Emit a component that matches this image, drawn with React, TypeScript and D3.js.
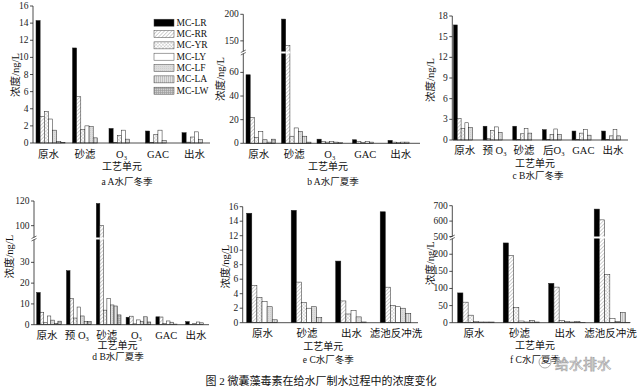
import React from "react";
import * as d3 from "d3";

const seriesNames = ["MC-LR", "MC-RR", "MC-YR", "MC-LY", "MC-LF", "MC-LA", "MC-LW"];

const catsA = ["原水", "砂滤", "O3", "GAC", "出水"];
const valsA = [
  [14.3, 3.1, 3.7, 2.8, 1.5, 0.2, 0.05],
  [11.1, 5.4, 1.6, 2.0, 1.9, 0.6, 0],
  [1.7, 0.05, 0.9, 1.5, 0.45, 0, 0],
  [1.4, 0.05, 1.0, 1.5, 0.3, 0, 0],
  [1.2, 0.1, 0.7, 1.3, 0.4, 0, 0],
];
const ticksA = [0, 2, 4, 6, 8, 10, 12, 14, 16];

const catsB = ["原水", "砂滤", "O3", "GAC", "出水"];
const valsB = [
  [58, 22, 5, 10, 3, 1, 3.5],
  [191, 141, 6, 13, 10, 6, 1],
  [3.5, 1.5, 1, 1.5, 1, 0.5, 0],
  [3, 1.5, 0.5, 1.5, 1, 0, 0],
  [2.5, 1, 0.5, 1, 1, 0, 0],
];
const ticksBLow = [0, 20, 40, 60];
const ticksBHigh = [150, 200];

const catsC = ["原水", "预 O3", "砂滤", "后O3", "GAC", "出水"];
const valsC = [
  [16.7, 3.1, 1.7, 2.5, 1.8, 0, 0],
  [2.0, 0.2, 1.4, 1.9, 1.1, 0, 0],
  [2.0, 0.1, 0.9, 1.7, 1.0, 0, 0],
  [1.5, 0.1, 0.8, 1.6, 0.8, 0, 0],
  [1.3, 0.1, 1.0, 1.5, 0.7, 0, 0],
  [1.3, 0.1, 0.6, 1.5, 0.6, 0, 0],
];
const ticksC = [0, 3, 6, 9, 12, 15, 18];

const catsD = ["原水", "预 O3", "砂滤", "O3", "GAC", "出水"];
const valsD = [
  [15.5, 6, 1, 4.2, 2.2, 0.7, 1.7],
  [26, 12.5, 3.2, 8.5, 4.2, 1.5, 1.5],
  [118, 100, 7, 12.5, 9.5, 9, 4.7],
  [3.6, 4.1, 0.4, 2.3, 1.5, 3.8, 1.3],
  [3.8, 3.7, 0.5, 1.8, 1.2, 0.3, 0],
  [1.5, 0.2, 0.5, 1.3, 0.9, 0, 0],
];
const ticksDLow = [0, 10, 20, 30];
const ticksDHigh = [100, 120];

const catsE = ["原水", "砂滤", "出水", "滤池反冲洗"];
const valsE = [
  [15.1, 5.1, 3.5, 2.9, 2.2, 0.4, 0],
  [15.5, 5.6, 2.8, 2.0, 2.2, 0.7, 0],
  [8.5, 3.0, 1.2, 1.7, 0.8, 0.1, 0],
  [15.3, 4.9, 2.4, 2.2, 2.0, 1.3, 0],
];
const ticksE = [0, 2, 4, 6, 8, 10, 12, 14, 16];

const catsF = ["原水", "砂滤", "出水", "滤池反冲洗"];
const valsF = [
  [87, 60, 22, 3, 2, 2, 2],
  [233, 196, 45, 5, 2, 7, 2],
  [115, 104, 7, 3, 2, 4, 1],
  [678, 608, 141, 12, 3, 30, 1],
];
const ticksFLow = [0, 50, 100, 150, 200];
const ticksFHigh = [500, 600, 700];

const yLabel = "浓度/ng/L";
const xTitle = "工艺单元";
const caption = "图 2   微囊藻毒素在给水厂制水过程中的浓度变化";

const SERIF = "'Liberation Serif','Noto Sans CJK SC',serif";
const fills = ["#000", "url(#pRR)", "url(#pYR)", "#fff", "url(#pLF)", "url(#pLA)", "url(#pLW)"];

type Cfg = {
  id: string;
  cats: string[];
  vals: number[][];
  axisX: number;
  xEnd: number;
  low: { domain: [number, number]; range: [number, number]; ticks: number[] };
  high?: { domain: [number, number]; range: [number, number]; ticks: number[] };
  start: number;
  step: number;
  groupW: number;
  catY: number;
  xt: [number, number];
  title: [number, number, string];
  yl: [number, number];
};

const panels: Cfg[] = [
  {
    id: "a", cats: catsA, vals: valsA, axisX: 33, xEnd: 210,
    low: { domain: [0, 16], range: [143, 6], ticks: ticksA },
    start: 36, step: 36.5, groupW: 29, catY: 154,
    xt: [122, 166.5], title: [127, 182, "a A水厂冬季"], yl: [15, 75],
  },
  {
    id: "b", cats: catsB, vals: valsB, axisX: 243.3, xEnd: 420,
    low: { domain: [0, 76], range: [143.3, 53.5], ticks: ticksBLow },
    high: { domain: [130, 200], range: [51.5, 14.3], ticks: ticksBHigh },
    start: 246, step: 35.5, groupW: 29.5, catY: 154,
    xt: [328, 166], title: [333, 181.7, "b A水厂夏季"], yl: [220.7, 79],
  },
  {
    id: "c", cats: catsC, vals: valsC, axisX: 452.3, xEnd: 628,
    low: { domain: [0, 18], range: [140, 16], ticks: ticksC },
    start: 453.5, step: 29.64, groupW: 26.6, catY: 150,
    xt: [535, 163.5], title: [538, 175.5, "c B水厂冬季"], yl: [430, 80],
  },
  {
    id: "d", cats: catsD, vals: valsD, axisX: 34, xEnd: 209,
    low: { domain: [0, 41], range: [324.7, 239.5], ticks: ticksDLow },
    high: { domain: [90.4, 120], range: [237.5, 201], ticks: ticksDHigh },
    start: 36.7, step: 29.8, groupW: 24.7, catY: 335,
    xt: [117.5, 345], title: [118, 356.5, "d B水厂夏季"], yl: [9, 256.7],
  },
  {
    id: "e", cats: catsE, vals: valsE, axisX: 242.7, xEnd: 418,
    low: { domain: [0, 16], range: [322.7, 206.7], ticks: ticksE },
    start: 246.7, step: 44.5, groupW: 35.7, catY: 333.3,
    xt: [323.3, 346], title: [328.3, 360.3, "e C水厂冬季"], yl: [225, 266.7],
  },
  {
    id: "f", cats: catsF, vals: valsF, axisX: 452.3, xEnd: 630,
    low: { domain: [0, 246], range: [322.7, 238.5], ticks: ticksFLow },
    high: { domain: [500, 700], range: [236.5, 205.7], ticks: ticksFHigh },
    start: 457.7, step: 45.5, groupW: 36.5, catY: 333.3,
    xt: [535, 345.5], title: [535, 360, "f C水厂夏季"], yl: [430, 263.3],
  },
];

function CatLabel({ x, y, label }: { x: number; y: number; label: string }) {
  const idx = label.indexOf("O3");
  if (idx >= 0) {
    const pre = label.slice(0, idx);
    return (
      <text x={x} y={y} textAnchor="middle" dominantBaseline="central" fontSize={10.5} fontFamily={SERIF} fill="#111">
        {pre}O<tspan fontSize={6.5} dy={2.5}>3</tspan>
      </text>
    );
  }
  return (
    <text x={x} y={y} textAnchor="middle" dominantBaseline="central" fontSize={10.5} fontFamily={SERIF} fill="#111">
      {label}
    </text>
  );
}

function Panel({ cfg }: { cfg: Cfg }) {
  const { cats, vals, axisX, xEnd, low, high, start, step, groupW } = cfg;
  const n = cats.length;
  const pi = 1 - groupW / step;
  const r0 = start - (step - groupW) / 2;
  const x = d3.scaleBand<string>().domain(cats).range([r0, r0 + n * step]).paddingInner(pi).paddingOuter(pi / 2);
  const xs = d3.scaleBand<string>().domain(seriesNames).range([0, x.bandwidth()]);
  const yL = d3.scaleLinear().domain(low.domain).range(low.range);
  const yH = high ? d3.scaleLinear().domain(high.domain).range(high.range) : null;
  const y = (v: number) => (!yH || v <= low.domain[1] ? yL(Math.min(v, low.domain[1])) : yH(Math.max(v, high!.domain[0])));
  const y0 = yL(0);
  const stroke = "#222";

  return (
    <g>
      {cats.map((c, i) =>
        seriesNames.map((s, j) => {
          const v = vals[i][j];
          if (!(v > 0)) return null;
          const bx = (x(c) as number) + (xs(s) as number);
          const bw = xs.bandwidth();
          const top = y(v);
          const crosses = !!yH && v > low.domain[1];
          return (
            <g key={c + s}>
              <rect x={bx} y={top} width={bw} height={Math.max(0.3, y0 - top)} fill={fills[j]} stroke={stroke} strokeWidth={0.5} />
              {crosses && (
                <rect x={bx - 0.4} y={high!.range[0]} width={bw + 0.8} height={low.range[1] - high!.range[0]} fill="#fff" />
              )}
            </g>
          );
        })
      )}
      <line x1={axisX} x2={xEnd} y1={y0} y2={y0} stroke="#222" strokeWidth={0.8} />
      <line x1={axisX} x2={axisX} y1={y0} y2={low.range[1]} stroke="#222" strokeWidth={0.8} />
      {high && <line x1={axisX} x2={axisX} y1={high.range[0]} y2={high.range[1]} stroke="#222" strokeWidth={0.8} />}
      {high && (
        <g stroke="#333" strokeWidth={0.7}>
          <line x1={axisX - 2.5} x2={axisX + 2.5} y1={low.range[1] + 1.5} y2={low.range[1] - 1} />
          <line x1={axisX - 2.5} x2={axisX + 2.5} y1={high.range[0] + 1} y2={high.range[0] - 1.5} />
        </g>
      )}
      {low.ticks.map((t) => (
        <g key={"l" + t}>
          <line x1={axisX - 3} x2={axisX} y1={yL(t)} y2={yL(t)} stroke="#222" strokeWidth={0.8} />
          <text x={axisX - 4.5} y={yL(t)} textAnchor="end" dominantBaseline="central" fontSize={9.5} fontFamily={SERIF} fill="#222">{t}</text>
        </g>
      ))}
      {high && yH &&
        high.ticks.map((t) => (
          <g key={"h" + t}>
            <line x1={axisX - 3} x2={axisX} y1={yH(t)} y2={yH(t)} stroke="#222" strokeWidth={0.8} />
            <text x={axisX - 4.5} y={yH(t)} textAnchor="end" dominantBaseline="central" fontSize={9.5} fontFamily={SERIF} fill="#222">{t}</text>
          </g>
        ))}
      {cats.map((c) => (
        <CatLabel key={"c" + c} x={(x(c) as number) + x.bandwidth() / 2 - 2} y={cfg.catY} label={c} />
      ))}
      <text x={cfg.xt[0]} y={cfg.xt[1]} textAnchor="middle" dominantBaseline="central" fontSize={10} fontFamily={SERIF} fill="#111">{xTitle}</text>
      <text x={cfg.title[0]} y={cfg.title[1]} textAnchor="middle" dominantBaseline="central" fontSize={9.5} fontFamily={SERIF} fill="#111">{cfg.title[2]}</text>
      <text transform={`translate(${cfg.yl[0]},${cfg.yl[1]}) rotate(-90)`} textAnchor="middle" dominantBaseline="central" fontSize={10.5} fontFamily={SERIF} fill="#111">{yLabel}</text>
    </g>
  );
}

function Legend() {
  const ly = d3.scalePoint<string>().domain(seriesNames).range([22.7, 90.7]);
  return (
    <g>
      {seriesNames.map((s, j) => (
        <g key={s}>
          <rect x={154} y={(ly(s) as number) - 3.5} width={20} height={7} fill={fills[j]} stroke="#444" strokeWidth={0.5} />
          <text x={176.5} y={ly(s) as number} dominantBaseline="central" fontSize={9.5} fontFamily={SERIF} fill="#111">{s}</text>
        </g>
      ))}
    </g>
  );
}

export default function App() {
  return (
    <svg width={640} height={392} viewBox="0 0 640 392" style={{ position: "absolute", left: 0, top: 0, background: "#fff" }}>
      <defs>
        <pattern id="pRR" width={2.6} height={2.6} patternUnits="userSpaceOnUse" patternTransform="rotate(45)">
          <rect width={2.6} height={2.6} fill="#fff" />
          <line x1={0} y1={0} x2={0} y2={2.6} stroke="#8a8a8a" strokeWidth={0.8} />
        </pattern>
        <pattern id="pYR" width={2.4} height={2.4} patternUnits="userSpaceOnUse" patternTransform="rotate(45)">
          <rect width={2.4} height={2.4} fill="#fff" />
          <line x1={0} y1={0} x2={0} y2={2.4} stroke="#a8a8a8" strokeWidth={0.6} />
          <line x1={0} y1={0} x2={2.4} y2={0} stroke="#a8a8a8" strokeWidth={0.6} />
        </pattern>
        <pattern id="pLF" width={2} height={2} patternUnits="userSpaceOnUse">
          <rect width={2} height={2} fill="#dcdcdc" />
          <rect width={1} height={1} fill="#cfcfcf" />
        </pattern>
        <pattern id="pLA" width={2} height={2} patternUnits="userSpaceOnUse">
          <rect width={2} height={2} fill="#e2e2e2" />
          <line x1={0.5} y1={0} x2={0.5} y2={2} stroke="#aaa" strokeWidth={0.6} />
        </pattern>
        <pattern id="pLW" width={2} height={2} patternUnits="userSpaceOnUse">
          <rect width={2} height={2} fill="#cfcfcf" />
          <line x1={0.5} y1={0} x2={0.5} y2={2} stroke="#999" strokeWidth={0.6} />
          <line x1={0} y1={0.5} x2={2} y2={0.5} stroke="#999" strokeWidth={0.6} />
        </pattern>
      </defs>
      <rect width={640} height={392} fill="#fff" />
      {panels.map((p) => (
        <Panel key={p.id} cfg={p} />
      ))}
      <Legend />
      <text x={321} y={381} textAnchor="middle" dominantBaseline="central" fontSize={11} fontFamily={SERIF} fill="#111">{caption}</text>
      <text x={555} y={363} dominantBaseline="central" fontSize={14} fontFamily="'Noto Sans CJK SC',sans-serif" fill="#fff" stroke="#9a9a9a" strokeWidth={0.7} opacity={0.9}>给水排水</text>
      <circle cx={545} cy={362} r={6} fill="none" stroke="#aaa" strokeWidth={1} />
    </svg>
  );
}
